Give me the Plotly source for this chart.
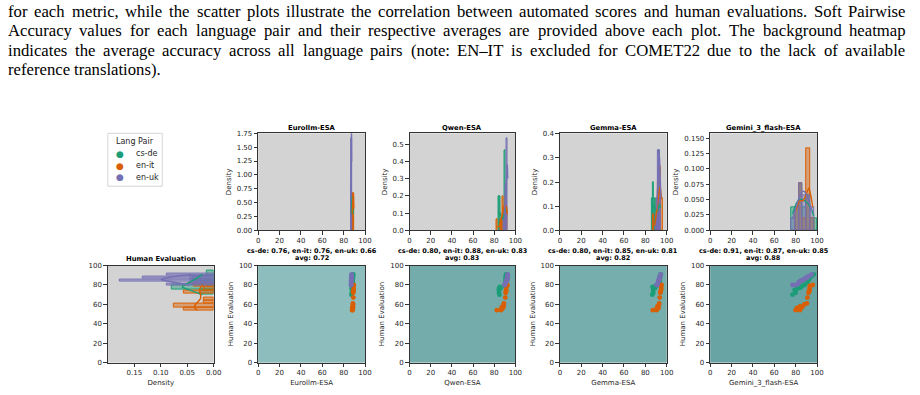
import numpy as np
import plotly.graph_objects as go

# ---------------- data ----------------
pairs = ["cs-de", "en-it", "en-uk"]
metrics = ["Eurollm-ESA", "Qwen-ESA", "Gemma-ESA", "Gemini_3_flash-ESA"]

human_csde = [70, 72, 75, 76, 77, 77, 78, 79, 80, 81, 83, 85, 87, 89, 91]
human_enit = [54, 54, 56, 57, 57, 58, 60, 61, 67, 72, 73, 74, 76, 79, 80]
human_enuk = [80, 80, 81, 83, 84, 84.5, 85, 85, 86, 87, 87, 88, 89, 90, 91]

eurollm_csde = [87.3, 87.7, 88.0, 87.5, 88.3, 87.9, 87.8, 88.1, 88.5, 87.6, 88.6, 88.2, 88.7, 88.9, 89.0]
eurollm_enit = [88.0, 88.3, 88.5, 88.1, 88.7, 88.45, 88.9, 88.6, 89.1, 88.85, 89.3, 89.0, 89.4, 89.25, 89.5]
eurollm_enuk = [86.9, 87.0, 87.1, 86.95, 87.1, 87.3, 87.4, 87.25, 87.3, 87.5, 87.35, 87.45, 87.25, 87.5, 87.4]

qwen_csde = [85.0, 84.5, 84.3, 85.6, 84.7, 86.2, 85.4, 90.2, 90.4, 90.5, 90.6, 90.7, 90.8, 90.9, 91.3]
qwen_enit = [82.5, 86.5, 88.0, 87.0, 88.5, 88.8, 89.0, 89.2, 90.5, 90.8, 91.0, 91.5, 91.2, 92.0, 92.5]
qwen_enuk = [89.5, 90.0, 90.5, 91.0, 91.2, 91.5, 91.8, 92.1, 92.2, 92.3, 92.4, 92.5, 92.6, 92.7, 92.8]

gemma_csde = [86.5, 87.5, 87.3, 87.8, 88.5, 89.2, 86.8, 89.8, 92.6, 93.1, 93.3, 93.4, 93.6, 93.7, 94.3]
gemma_enit = [87.0, 90.5, 92.0, 91.0, 92.5, 91.5, 92.8, 93.0, 93.5, 94.0, 94.2, 94.5, 95.0, 94.8, 95.2]
gemma_enuk = [90.5, 91.0, 91.5, 92.0, 92.2, 92.4, 92.6, 92.8, 93.0, 93.2, 93.4, 93.6, 93.8, 94.0, 94.5]

gemini_csde = [77, 80, 79, 81, 83, 84, 85, 86, 88, 89, 91, 92, 93, 95, 97]
gemini_enit = [80, 84, 81, 83, 86, 84, 88, 90.5, 91, 92, 92.5, 93, 93, 93.2, 96]
gemini_enuk = [77, 80, 82, 83, 84, 85, 86, 87, 88, 89, 90, 91, 92, 94, 95]

acc_csde = [0.76, 0.80, 0.80, 0.91]
acc_enit = [0.76, 0.88, 0.85, 0.87]
acc_enuk = [0.66, 0.83, 0.81, 0.85]
acc_avg = [0.72, 0.83, 0.82, 0.88]

caption_lines = [
    "for each metric, while the scatter plots illustrate the correlation between automated scores and human evaluations. Soft Pairwise",
    "Accuracy values for each language pair and their respective averages are provided above each plot. The background heatmap",
    "indicates the average accuracy across all language pairs (note: EN\u2013IT is excluded for COMET22 due to the lack of available",
    "reference translations).",
]

# ---------------- styling ----------------
colors = ["#1b9e77", "#d95f02", "#7570b3"]
fills = ["rgba(27,158,119,0.45)", "rgba(217,95,2,0.45)", "rgba(117,112,179,0.45)"]
W, H = 920, 395
FONT = "DejaVu Sans"

human = [human_csde, human_enit, human_enuk]
scores = [
    [eurollm_csde, eurollm_enit, eurollm_enuk],
    [qwen_csde, qwen_enit, qwen_enuk],
    [gemma_csde, gemma_enit, gemma_enuk],
    [gemini_csde, gemini_enit, gemini_enuk],
]
accs = [acc_csde, acc_enit, acc_enuk]

col_px = [(259, 367), (412, 519), (564, 672), (716, 824)]
hum_px = (107, 214)
hist_py = (132, 231)
sc_py = (267, 366)
bin_start = [86.4, 82.0, 86.0, 76.0]
bin_size = [0.4, 1.0, 1.0, 3.5]
hist_yr = [(0, 1.75, 0.25, ".2f"), (0, 0.565, 0.1, ".1f"), (0, 0.402, 0.1, ".1f"), (0, 0.158, 0.025, ".3f")]
hum_bins = [(70, 5), (53.5, 3.5), (79.5, 1.5)]


def px_x(a, b):
    return [a / W, b / W]


def px_y(top, bot):
    return [1 - bot / H, 1 - top / H]


def kde_curve(vals, n=200):
    v = np.asarray(vals, float)
    bw = v.std(ddof=1) * len(v) ** (-0.2)
    g = np.linspace(v.min(), v.max(), n)
    d = np.exp(-0.5 * ((g[:, None] - v[None, :]) / bw) ** 2).sum(1) / (len(v) * bw * np.sqrt(2 * np.pi))
    return g, d


def density_hist(vals, start, size):
    v = np.asarray(vals, float)
    nb = int(np.ceil((v.max() - start) / size)) + 1
    edges = start + size * np.arange(nb + 1)
    cnt, _ = np.histogram(v, bins=edges)
    dens = cnt / (len(v) * size)
    centers = (edges[:-1] + edges[1:]) / 2
    keep = cnt > 0
    return centers[keep], dens[keep]


def axstyle(**kw):
    base = dict(showline=True, mirror=True, linecolor="#333333", linewidth=1,
                ticks="outside", ticklen=3.5, tickwidth=1, tickcolor="#333333",
                showgrid=False, zeroline=False,
                tickfont=dict(family=FONT, size=7, color="#262626"),
                title_font=dict(family=FONT, size=7, color="#262626"))
    base.update(kw)
    return base


fig = go.Figure()
layout = dict(width=W, height=H, margin=dict(l=0, r=0, t=0, b=0),
              paper_bgcolor="white", plot_bgcolor="#d3d3d3",
              barmode="overlay", bargap=0, showlegend=False)
annotations = []
shapes = []

# histograms (axes 1-4) and scatters (axes 5-8)
for m in range(4):
    hx, hy = f"x{m+1}", f"y{m+1}"
    sx, sy = f"x{m+5}", f"y{m+5}"
    for p in range(3):
        c, d = density_hist(scores[m][p], bin_start[m], bin_size[m])
        fig.add_trace(go.Bar(x=c, y=d, width=bin_size[m], xaxis=hx, yaxis=hy,
                             marker=dict(color=fills[p], line=dict(color=colors[p], width=1)),
                             hoverinfo="skip"))
    for p in range(3):
        g, d = kde_curve(scores[m][p])
        fig.add_trace(go.Scatter(x=g, y=d, xaxis=hx, yaxis=hy, mode="lines",
                                 line=dict(color=colors[p], width=1.4), hoverinfo="skip"))
    # background heatmap (average accuracy)
    v = acc_avg[m]
    fig.add_trace(go.Heatmap(z=[[v, v], [v, v]], x=[0, 100], y=[0, 100], xaxis=sx, yaxis=sy,
                             zmin=0.72, zmax=0.88,
                             colorscale=[[0, "#8dbdbd"], [1, "#68a4a4"]],
                             showscale=False, hoverinfo="skip"))
    for p in range(3):
        fig.add_trace(go.Scatter(x=scores[m][p], y=human[p], xaxis=sx, yaxis=sy, mode="markers",
                                 marker=dict(color=colors[p], size=4.8), hoverinfo="skip"))
    y0, y1, dt, fmt = hist_yr[m]
    layout[f"xaxis{m+1}"] = axstyle(domain=px_x(*col_px[m]), anchor=hy, range=[0, 100],
                                    tickvals=[0, 20, 40, 60, 80, 100])
    layout[f"yaxis{m+1}"] = axstyle(domain=px_y(*hist_py), anchor=hx, range=[y0, y1],
                                    dtick=dt, tick0=0, tickformat=fmt,
                                    title=dict(text="Density", standoff=4))
    layout[f"xaxis{m+5}"] = axstyle(domain=px_x(*col_px[m]), anchor=sy, range=[0, 100],
                                    tickvals=[0, 20, 40, 60, 80, 100],
                                    title=dict(text=metrics[m], standoff=3))
    layout[f"yaxis{m+5}"] = axstyle(domain=px_y(*sc_py), anchor=sx, range=[0, 100],
                                    tickvals=[0, 20, 40, 60, 80, 100],
                                    title=dict(text="Human Evaluation", standoff=4))
    cx = (col_px[m][0] + col_px[m][1]) / 2 / W
    annotations.append(dict(text=f"<b>{metrics[m]}</b>", x=cx, y=1 - 126.5 / H, xref="paper", yref="paper",
                            showarrow=False, xanchor="center", yanchor="middle",
                            font=dict(family=FONT, size=6.8, color="black")))
    annotations.append(dict(text=f"<b>{pairs[0]}: {accs[0][m]:.2f}, {pairs[1]}: {accs[1][m]:.2f}, {pairs[2]}: {accs[2][m]:.2f}</b>",
                            x=cx, y=1 - 252.5 / H, xref="paper", yref="paper",
                            showarrow=False, xanchor="center", yanchor="middle",
                            font=dict(family=FONT, size=6.5, color="black")))
    annotations.append(dict(text=f"<b>avg: {acc_avg[m]:.2f}</b>",
                            x=cx, y=1 - 259.5 / H, xref="paper", yref="paper",
                            showarrow=False, xanchor="center", yanchor="middle",
                            font=dict(family=FONT, size=6.5, color="black")))

# human evaluation marginal (axis 9)
for p in range(3):
    c, d = density_hist(human[p], hum_bins[p][0], hum_bins[p][1])
    fig.add_trace(go.Bar(y=c, x=d, width=hum_bins[p][1], orientation="h", xaxis="x9", yaxis="y9",
                         marker=dict(color=fills[p], line=dict(color=colors[p], width=1)),
                         hoverinfo="skip"))
for p in range(3):
    g, d = kde_curve(human[p])
    fig.add_trace(go.Scatter(x=d, y=g, xaxis="x9", yaxis="y9", mode="lines",
                             line=dict(color=colors[p], width=1.4), hoverinfo="skip"))
layout["xaxis9"] = axstyle(domain=px_x(*hum_px), anchor="y9", range=[0.2, 0],
                           tickvals=[0.15, 0.10, 0.05, 0.0], tickformat=".2f",
                           title=dict(text="Density", standoff=3))
layout["yaxis9"] = axstyle(domain=px_y(*sc_py), anchor="x9", range=[0, 100],
                           tickvals=[0, 20, 40, 60, 80, 100])
annotations.append(dict(text="<b>Human Evaluation</b>", x=(hum_px[0] + hum_px[1]) / 2 / W, y=1 - 260 / H,
                        xref="paper", yref="paper", showarrow=False, xanchor="center", yanchor="middle",
                        font=dict(family=FONT, size=6.8, color="black")))

# legend (text-based, matplotlib-like compact box)
shapes.append(dict(type="rect", xref="paper", yref="paper", x0=107 / W, x1=162 / W,
                   y0=1 - 186 / H, y1=1 - 132 / H, line=dict(color="#d5d5d5", width=1),
                   fillcolor="white", layer="above"))
annotations.append(dict(text="Lang Pair", x=134.5 / W, y=1 - 140.5 / H, xref="paper", yref="paper",
                        showarrow=False, xanchor="center", yanchor="middle",
                        font=dict(family=FONT, size=8, color="#262626")))
for p in range(3):
    yy = 1 - (153 + 12 * p) / H
    annotations.append(dict(text="\u25cf", x=119 / W, y=yy, xref="paper", yref="paper",
                            showarrow=False, xanchor="center", yanchor="middle",
                            font=dict(family=FONT, size=9, color=colors[p])))
    annotations.append(dict(text=pairs[p], x=133 / W, y=yy, xref="paper", yref="paper",
                            showarrow=False, xanchor="left", yanchor="middle",
                            font=dict(family=FONT, size=8, color="#262626")))

# caption text (justified word by word, Times metrics)
TW = {' ': 250, 'a': 444, 'b': 500, 'c': 444, 'd': 500, 'e': 444, 'f': 333, 'g': 500, 'h': 500,
      'i': 278, 'j': 278, 'k': 500, 'l': 278, 'm': 778, 'n': 500, 'o': 500, 'p': 500, 'q': 500,
      'r': 333, 's': 389, 't': 278, 'u': 500, 'v': 500, 'w': 722, 'x': 500, 'y': 500, 'z': 444,
      'A': 722, 'B': 667, 'C': 667, 'D': 722, 'E': 611, 'F': 556, 'G': 722, 'H': 722, 'I': 333,
      'J': 389, 'K': 722, 'L': 611, 'M': 889, 'N': 722, 'O': 722, 'P': 556, 'Q': 722, 'R': 667,
      'S': 556, 'T': 611, 'U': 722, 'V': 722, 'W': 944, 'X': 722, 'Y': 722, 'Z': 611,
      ',': 250, '.': 250, ':': 278, ';': 278, '(': 333, ')': 333, '\u2013': 500, '-': 333}
CAP_FS = 16.7
L, R = 5, 912


def wwidth(w):
    return sum(TW.get(ch, 500) for ch in w) * CAP_FS / 1000


cap_y = [8, 27.5, 47, 66.5]
for li, (t, yy) in enumerate(zip(caption_lines, cap_y)):
    words = t.split(" ")
    widths = [wwidth(w) for w in words]
    if li < len(caption_lines) - 1 and len(words) > 1:
        gap = (R - L - sum(widths)) / (len(words) - 1)
    else:
        gap = wwidth(" ")
    x = L
    for w, wd in zip(words, widths):
        annotations.append(dict(text=w, x=(x - 1) / W, y=1 - yy / H, xref="paper", yref="paper",
                                showarrow=False, xanchor="left", yanchor="middle",
                                font=dict(family="Liberation Serif", size=CAP_FS, color="black")))
        x += wd + gap

layout["annotations"] = annotations
layout["shapes"] = shapes
fig.update_layout(**layout)
fig.write_html("out.html")
